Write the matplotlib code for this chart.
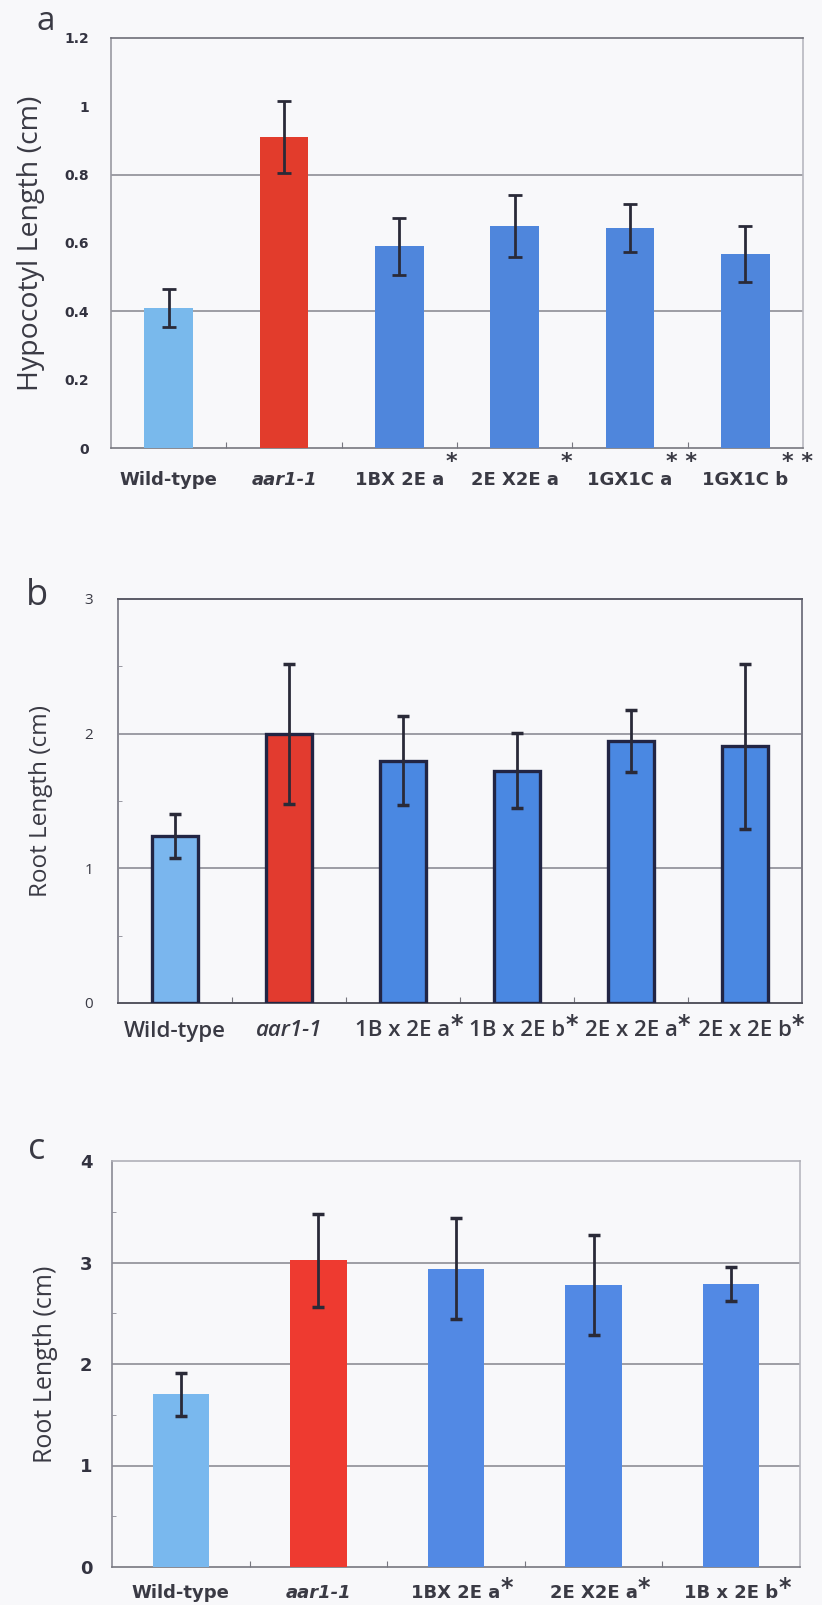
import matplotlib
matplotlib.use("Agg")
import matplotlib.pyplot as plt
import numpy as np

# ---------------- data ----------------
a_labels = ["Wild-type", "aar1-1", "1BX 2E a", "2E X2E a", "1GX1C a", "1GX1C b"]
a_values = [0.41, 0.91, 0.59, 0.65, 0.645, 0.567]
a_errors = [0.055, 0.105, 0.083, 0.09, 0.07, 0.082]
a_stars = ["", "", "*", "*", "* *", "* *"]

b_labels = ["Wild-type", "aar1-1", "1B x 2E a", "1B x 2E b", "2E x 2E a", "2E x 2E b"]
b_values = [1.24, 2.0, 1.80, 1.725, 1.945, 1.905]
b_errors = [0.16, 0.52, 0.33, 0.28, 0.23, 0.61]
b_stars = ["", "", "*", "*", "*", "*"]

c_labels = ["Wild-type", "aar1-1", "1BX 2E a", "2E X2E a", "1B x 2E b"]
c_values = [1.70, 3.02, 2.94, 2.78, 2.79]
c_errors = [0.21, 0.46, 0.50, 0.49, 0.17]
c_stars = ["", "", "*", "*", "*"]

BG = "#f8f8fa"
NARROW = ["DejaVu Sans"]
ROUND = ["Open Sans", "DejaVu Sans"]

fig = plt.figure(figsize=(8.22, 16.05), dpi=100, facecolor=BG)
W, H = 822, 1605


def frame(ax, top_c, side_c, bottom_c, left_c, lw=1.2):
    ax.set_facecolor(BG)
    ax.spines["top"].set_color(top_c)
    ax.spines["right"].set_color(side_c)
    ax.spines["bottom"].set_color(bottom_c)
    ax.spines["left"].set_color(left_c)
    for s in ax.spines.values():
        s.set_linewidth(lw)


def ylab(ax, text, xfrac, size):
    ax.set_ylabel(text, family=ROUND, fontsize=size, color="#3a3a44")
    ax.yaxis.label.set_verticalalignment("center")
    ax.yaxis.set_label_coords(xfrac, 0.5)


def xlabels(ax, labels, stars, fam, size, weight, color, dy, star_mode,
            star_dx=0.45, star_dy=-11, star_size=16):
    for i, (lab, st) in enumerate(zip(labels, stars)):
        style = "italic" if lab == "aar1-1" else "normal"
        t = ax.annotate(lab, xy=(i, 0), xycoords=("data", "axes fraction"),
                        xytext=(0, dy), textcoords="offset pixels",
                        ha="center", va="center", fontsize=size, family=fam,
                        fontweight=weight, style=style, color=color,
                        annotation_clip=False)
        if st:
            if star_mode == "attach":
                ax.annotate(st, xy=(1.0, 0.8), xycoords=t, xytext=(0, 0),
                            textcoords="offset pixels", ha="left", va="center",
                            fontsize=star_size, family=["DejaVu Sans"],
                            fontweight="bold", color=color, annotation_clip=False)
            else:
                ax.annotate(st, xy=(i + star_dx, 0), xycoords=("data", "axes fraction"),
                            xytext=(0, star_dy), textcoords="offset pixels",
                            ha="center", va="center", fontsize=star_size,
                            family=["DejaVu Sans"], fontweight="bold", color=color,
                            annotation_clip=False)


# ---------------- panel a ----------------
axa = fig.add_axes([111 / W, 1 - 448 / H, 692 / W, 410 / H])
frame(axa, "#6f6f78", "#b8b8c0", "#77777f", "#9a9aa2")
xa = np.arange(len(a_labels))
cols_a = ["#79b9ec", "#e23c2c"] + ["#4f86dc"] * 4
axa.bar(xa, a_values, width=0.42, color=cols_a, zorder=3)
axa.errorbar(xa, a_values, yerr=a_errors, fmt="none", ecolor="#2a2a38",
             elinewidth=2, capsize=5, capthick=2, zorder=4)
axa.set_xlim(-0.5, len(a_labels) - 0.5)
axa.set_ylim(0, 1.2)
axa.set_yticks(np.arange(0, 1.21, 0.2))
axa.set_yticklabels(["0", "0.2", "0.4", "0.6", "0.8", "1", "1.2"],
                    family=NARROW, fontweight="bold", fontsize=10, color="#333340")
for g in [0.4, 0.8]:
    axa.axhline(g, color="#8e8e96", lw=1.2, zorder=1)
axa.tick_params(axis="y", length=0, pad=16)
axa.set_xticks(np.arange(0.5, len(a_labels) - 0.5, 1))
axa.set_xticklabels([])
axa.tick_params(axis="x", direction="in", length=4, color="#77777f")
ylab(axa, "Hypocotyl Length (cm)", (31 - 111) / 692, 20.5)
xlabels(axa, a_labels, a_stars, NARROW, 13, "bold", "#3a3a44", -32, "sep",
        star_dx=0.45, star_dy=-14, star_size=16)
fig.text(46 / W, 1 - 22 / H, "a", fontsize=24, family=ROUND, color="#3a3a44",
         ha="center", va="center")

# ---------------- panel b ----------------
axb = fig.add_axes([118 / W, 1 - 1003 / H, 684 / W, 404 / H])
frame(axb, "#5a5a66", "#7a7a86", "#55555f", "#8a8a94", lw=1.4)
xb = np.arange(len(b_labels))
cols_b = ["#7ab6ee", "#e23b2f"] + ["#4a88e2"] * 4
axb.bar(xb, b_values, width=0.40, color=cols_b, edgecolor="#222544",
        linewidth=2.4, zorder=3)
axb.errorbar(xb, b_values, yerr=b_errors, fmt="none", ecolor="#2a2a38",
             elinewidth=2, capsize=4, capthick=2.5, zorder=4)
axb.set_xlim(-0.5, len(b_labels) - 0.5)
axb.set_ylim(0, 3)
axb.set_yticks([0, 1, 2, 3])
axb.set_yticklabels(["0", "1", "2", "3"], family=ROUND, fontsize=11, color="#3a3a44")
axb.set_yticks([0.5, 1.5, 2.5], minor=True)
axb.tick_params(axis="y", which="major", length=0, pad=18)
axb.tick_params(axis="y", which="minor", direction="in", length=3, color="#8a8a94")
for g in [1, 2]:
    axb.axhline(g, color="#8c8c96", lw=1.2, zorder=1)
axb.set_xticks(np.arange(0.5, len(b_labels) - 0.5, 1))
axb.set_xticklabels([])
axb.tick_params(axis="x", direction="in", length=4, color="#77777f")
ylab(axb, "Root Length (cm)", (41 - 118) / 684, 17.5)
xlabels(axb, b_labels, b_stars, ROUND, 16, "semibold", "#3a3a44", -28, "attach",
        star_size=17)
fig.text(37 / W, 1 - 596 / H, "b", fontsize=26, family=ROUND, color="#3a3a44",
         ha="center", va="center")

# ---------------- panel c ----------------
axc = fig.add_axes([112 / W, 1 - 1567 / H, 688 / W, 406 / H])
frame(axc, "#b0b0b8", "#b8b8c0", "#77777f", "#8a8a94")
xc = np.arange(len(c_labels))
cols_c = ["#79b8ee", "#ee3a30"] + ["#5289e4"] * 3
axc.bar(xc, c_values, width=0.41, color=cols_c, zorder=3)
axc.errorbar(xc, c_values, yerr=c_errors, fmt="none", ecolor="#2a2a38",
             elinewidth=2, capsize=4, capthick=2.5, zorder=4)
axc.set_xlim(-0.5, len(c_labels) - 0.5)
axc.set_ylim(0, 4)
axc.set_yticks([0, 1, 2, 3, 4])
axc.set_yticklabels(["0", "1", "2", "3", "4"], family=NARROW, fontweight="bold",
                    fontsize=13, color="#333340")
axc.set_yticks([0.5, 1.5, 2.5, 3.5], minor=True)
axc.tick_params(axis="y", which="major", length=0, pad=14)
axc.tick_params(axis="y", which="minor", direction="in", length=3, color="#8a8a94")
for g in [1, 2, 3]:
    axc.axhline(g, color="#8e8e96", lw=1.2, zorder=1)
axc.set_xticks(np.arange(0.5, len(c_labels) - 0.5, 1))
axc.set_xticklabels([])
axc.tick_params(axis="x", direction="in", length=4, color="#77777f")
ylab(axc, "Root Length (cm)", (45 - 112) / 688, 18)
xlabels(axc, c_labels, c_stars, NARROW, 13, "bold", "#3a3a44", -26, "attach",
        star_size=17)
fig.text(37 / W, 1 - 1150 / H, "c", fontsize=26, family=ROUND, color="#3a3a44",
         ha="center", va="center")

fig.savefig("out.png", dpi=100, facecolor=BG)
